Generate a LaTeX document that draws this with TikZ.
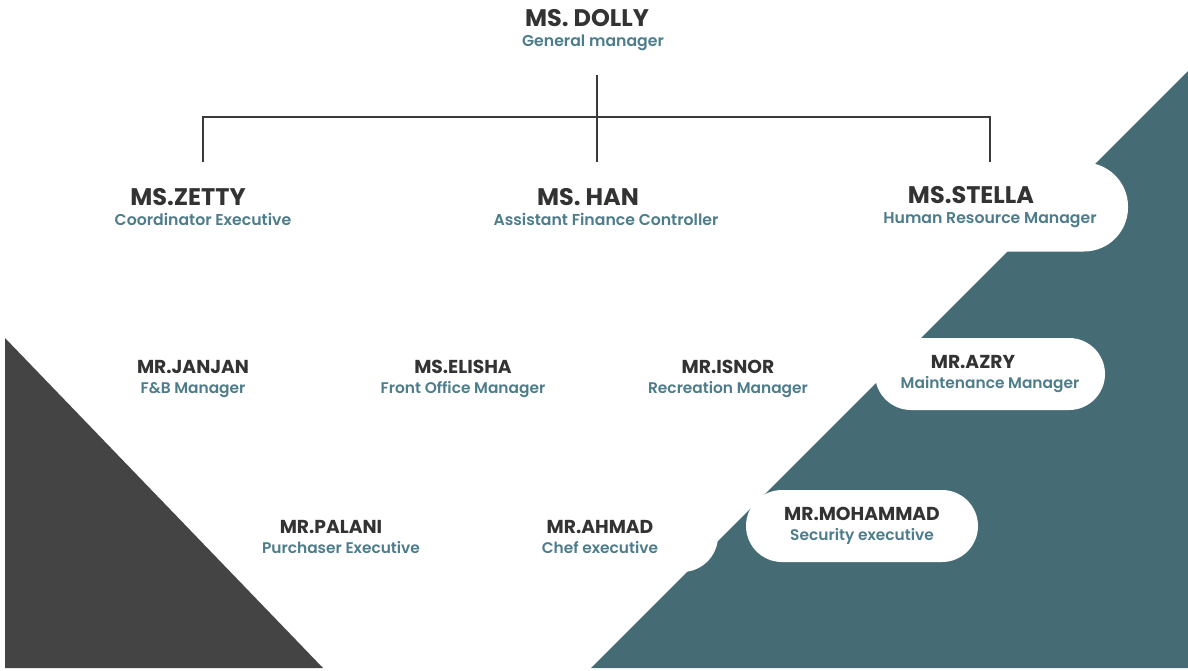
\documentclass[tikz,border=0pt]{standalone}
\usepackage{fontspec}
\setmainfont{Poppins}
\newfontfamily\rolefont{Poppins SemiBold}
\usetikzlibrary{positioning}
\definecolor{bgteal}{HTML}{456C75}
\definecolor{bgdark}{HTML}{444444}
\definecolor{namegrey}{HTML}{333333}
\definecolor{roleblue}{HTML}{4D7C8B}
\definecolor{linegrey}{HTML}{3A3A3A}
% name (optional shift of the name line), then job title
\newcommand{\who}[3][0]{{\bfseries\color{namegrey}\hspace*{#1pt}#2}\\[\rolegap]{\rolefont\rolesize\color{roleblue}#3}}
\tikzset{
	x=1pt, y=-1pt,
	staff/.style={fill=white, rounded corners=36pt, minimum width=236pt, minimum height=72pt,
		align=center, inner sep=0pt,
		font=\fontsize{18.7}{18.7}\selectfont\def\rolesize{\fontsize{15.4}{15.4}\selectfont}\def\rolegap{1pt}},
	boss/.style={staff, rounded corners=44pt, minimum width=276pt, minimum height=89pt,
		font=\fontsize{24}{24}\selectfont\def\rolesize{\fontsize{15.7}{15.7}\selectfont}\def\rolegap{-4pt}},
	link/.style={draw=linegrey, line width=1.8pt}}

\begin{document}
\begin{tikzpicture}
	\useasboundingbox (0,0) rectangle (1188,671);
	
	% background shapes
	\fill[bgdark] (5,338) -- (323,668) -- (5,668) -- cycle;
	\fill[bgteal] (591,668) -- (1188,71) -- (1188,668) -- cycle;
	
	\node[boss] (dolly) at (593,30) {\who[-12]{MS. DOLLY}{General manager}};
	
	\node[boss, below of=dolly, node distance=177pt, xshift=13pt] (han) {\who[-36]{MS. HAN}{Assistant Finance Controller}};
	\node[boss, left of=han, node distance=403pt] (zetty) {\who[-30]{MS.ZETTY}{Coordinator Executive}};
	\node[boss, right of=han, node distance=384pt] (stella) {\who[-38]{MS.STELLA}{Human Resource Manager}};
	
	\node[staff] (janjan) at (193,379) {\who{MR.JANJAN}{F\&B Manager}};
	\node[staff, right of=janjan, node distance=270pt] (elisha) {\who{MS.ELISHA}{Front Office Manager}};
	\node[staff, right of=elisha, node distance=265pt] (isnor) {\who{MR.ISNOR}{Recreation Manager}};
	\node[staff, right of=isnor, node distance=262pt, minimum width=230pt, yshift=5pt] (azry) {\who[-34]{MR.AZRY}{Maintenance Manager}};
	
	\node[staff] (palani) at (341,537) {\who[-20]{MR.PALANI}{Purchaser Executive}};
	\node[staff, right of=palani, node distance=259pt, minimum height=70pt] (ahmad) {\who{MR.AHMAD}{Chef executive}};
	\node[staff, right of=ahmad, node distance=262pt, minimum width=232pt, yshift=11pt] (mohammad) {\who{MR.MOHAMMAD}{Security executive}};
	
	\coordinate (bar) at (597,117);
	\draw[link] (bar |- dolly.south) -- (bar |- han.north);
	\draw[link] (zetty.north) -- (zetty.north |- bar) -- (stella.north |- bar) -- (stella.north);
\end{tikzpicture}
\end{document}
